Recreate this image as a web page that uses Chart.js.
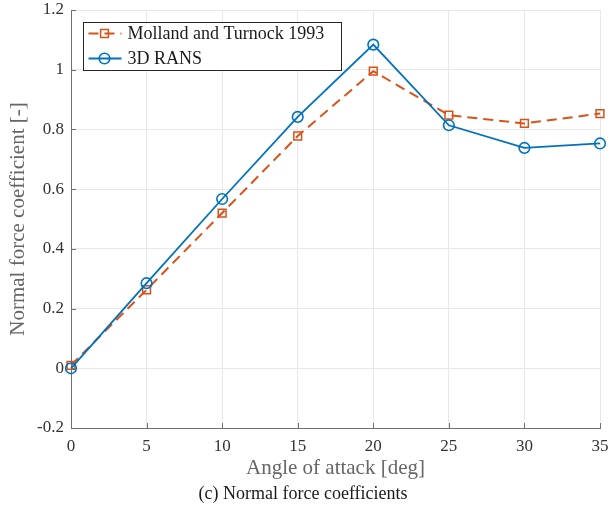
<!DOCTYPE html>
<html>
<head>
<meta charset="utf-8">
<script src="https://cdn.jsdelivr.net/npm/chart.js@4.4.0/dist/chart.umd.min.js"></script>
<style>
  body { margin: 0; background: #fff; }
  #wrap { width: 610px; height: 511px; }
</style>
</head>
<body>
<div id="wrap"><canvas id="chart" width="610" height="511"></canvas></div>
<script>
// chart data
const angles = [0, 5, 10, 15, 20, 25, 30, 35];
const mollandValues = [0.01, 0.263, 0.52, 0.778, 0.995, 0.848, 0.82, 0.853];
const ransValues = [0, 0.285, 0.567, 0.842, 1.084, 0.814, 0.738, 0.753];
const xTicks = [0, 5, 10, 15, 20, 25, 30, 35];
const yTicks = [-0.2, 0, 0.2, 0.4, 0.6, 0.8, 1, 1.2];
const yTickLabels = ["-0.2", "0", "0.2", "0.4", "0.6", "0.8", "1", "1.2"];

const orange = "#D95319";
const blue = "#0072BD";
const serif = "'Liberation Serif', 'DejaVu Serif', serif";

// ticks inside the axes, like matlab
const innerTicks = {
  id: "innerTicks",
  afterDatasetsDraw(chart) {
    const ctx = chart.ctx;
    const x = chart.scales.x;
    const y = chart.scales.y;
    ctx.save();
    ctx.strokeStyle = "#707070";
    ctx.lineWidth = 1;
    ctx.beginPath();
    for (let v of xTicks) {
      const px = Math.round(x.getPixelForValue(v)) + 0.5;
      ctx.moveTo(px, y.bottom);
      ctx.lineTo(px, y.bottom - 5);
    }
    for (let v of yTicks) {
      const py = Math.round(y.getPixelForValue(v)) + 0.5;
      ctx.moveTo(x.left, py);
      ctx.lineTo(x.left + 5, py);
    }
    ctx.stroke();
    ctx.restore();
  },
};

// legend box in the top left corner
const boxLegend = {
  id: "boxLegend",
  afterDraw(chart) {
    const ctx = chart.ctx;
    const left = 83.5;
    const top = 22.5;
    const w = 258;
    const h = 48;
    ctx.save();
    ctx.fillStyle = "#fff";
    ctx.fillRect(left, top, w, h);
    ctx.strokeStyle = "#262626";
    ctx.lineWidth = 1;
    ctx.strokeRect(left, top, w, h);

    const items = chart.data.datasets;
    items.forEach((ds, i) => {
      const cy = top + 11 + i * 25;
      ctx.strokeStyle = ds.borderColor;
      ctx.lineWidth = ds.borderWidth;
      ctx.setLineDash(ds.borderDash || []);
      ctx.beginPath();
      ctx.moveTo(left + 5, cy);
      ctx.lineTo(left + 38, cy);
      ctx.stroke();
      ctx.setLineDash([]);
      ctx.lineWidth = ds.pointBorderWidth;
      ctx.beginPath();
      if (ds.pointStyle === "rect") {
        const s = ds.pointRadius * Math.SQRT1_2;
        ctx.rect(left + 21 - s, cy - s, 2 * s, 2 * s);
      } else {
        ctx.arc(left + 21, cy, ds.pointRadius, 0, Math.PI * 2);
      }
      ctx.stroke();
      ctx.fillStyle = "#1a1a1a";
      ctx.font = "18px " + serif;
      ctx.textBaseline = "middle";
      ctx.fillText(ds.label, left + 44, cy + 1);
    });
    ctx.restore();
  },
};

const ctx = document.getElementById("chart").getContext("2d");
new Chart(ctx, {
  type: "line",
  data: {
    datasets: [
      {
        label: "Molland and Turnock 1993",
        data: angles.map((a, i) => ({ x: a, y: mollandValues[i] })),
        borderColor: orange,
        borderWidth: 2,
        borderDash: [10, 6],
        pointStyle: "rect",
        pointRadius: 5.5,
        pointBorderWidth: 1.5,
        pointBorderColor: orange,
        pointBackgroundColor: "rgba(0,0,0,0)",
        order: 1,
        clip: false,
      },
      {
        label: "3D RANS",
        data: angles.map((a, i) => ({ x: a, y: ransValues[i] })),
        borderColor: blue,
        borderWidth: 1.8,
        pointStyle: "circle",
        pointRadius: 5.3,
        pointBorderWidth: 1.6,
        pointBorderColor: blue,
        pointBackgroundColor: "rgba(0,0,0,0)",
        order: 0,
        clip: false,
      },
    ],
  },
  options: {
    responsive: false,
    animation: false,
    layout: { padding: { left: 6, right: 10, top: 10, bottom: 0 } },
    plugins: {
      legend: { display: false },
      tooltip: { enabled: false },
      title: {
        display: true,
        position: "bottom",
        text: "(c) Normal force coefficients",
        color: "#1a1a1a",
        font: { family: serif, size: 18, weight: "normal" },
        padding: { top: 0, bottom: 6 },
      },
    },
    scales: {
      x: {
        type: "linear",
        min: 0,
        max: 35,
        afterFit(scale) {
          scale.height = 55.4;
          scale.paddingLeft = 0;
          scale.paddingRight = 0;
        },
        afterBuildTicks(scale) {
          scale.ticks = xTicks.map((v) => ({ value: v }));
        },
        ticks: {
          color: "#333",
          font: { family: serif, size: 17 },
          padding: 8,
          maxRotation: 0,
          callback: (v) => String(v),
        },
        grid: { color: "#e8e8e8", lineWidth: 1, drawTicks: false },
        border: { color: "#707070", width: 1 },
        title: {
          display: true,
          text: "Angle of attack [deg]",
          color: "#666",
          font: { family: serif, size: 21 },
          padding: { top: 0, bottom: 2 },
        },
      },
      y: {
        type: "linear",
        min: -0.2,
        max: 1.2,
        afterFit(scale) {
          scale.width = 65;
          scale.paddingTop = 0;
          scale.paddingBottom = 0;
        },
        afterBuildTicks(scale) {
          scale.ticks = yTicks.map((v) => ({ value: v }));
        },
        ticks: {
          color: "#333",
          font: { family: serif, size: 17 },
          padding: 7,
          callback: (v) => yTickLabels[yTicks.findIndex((t) => Math.abs(t - v) < 1e-9)],
        },
        grid: { color: "#e8e8e8", lineWidth: 1, drawTicks: false },
        border: { color: "#707070", width: 1 },
        title: {
          display: true,
          text: "Normal force coefficient [-]",
          color: "#666",
          font: { family: serif, size: 21 },
          padding: 0,
        },
      },
    },
  },
  plugins: [innerTicks, boxLegend],
});
</script>
</body>
</html>
